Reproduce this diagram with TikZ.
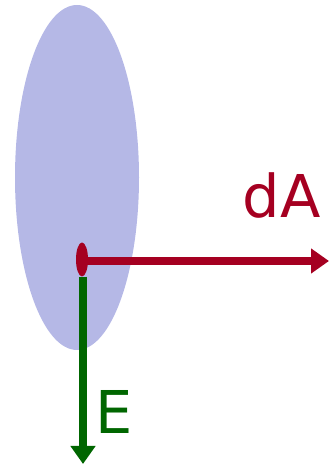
\documentclass[tikz,border=0pt]{standalone}
\usepackage{fontspec}
\setmainfont{DejaVu Sans}
\usetikzlibrary{arrows.meta,positioning,shapes.geometric}
\definecolor{lav}{RGB}{181,184,230}
\definecolor{wine}{RGB}{165,0,33}
\definecolor{leaf}{RGB}{0,102,0}

\begin{document}
\begin{tikzpicture}[x=1pt,y=1pt,
  blobshape/.style={ellipse,fill=lav,inner sep=0pt},
  vec/.style={-{Triangle[length=18pt,width=24pt]},line width=8pt},
  lbl/.style={inner sep=0pt,anchor=base,font=\fontsize{59}{59}\selectfont}
]
\useasboundingbox (0,0) rectangle (329,465);
\node[blobshape,minimum width=124pt,minimum height=345pt] (blob) at (77,287.5) {};
\node[ellipse,fill=wine,inner sep=0pt,minimum width=12pt,minimum height=34pt] (src) at (82,205.5) {};
\coordinate (tipA) at (329,204);
\coordinate (tipE) at (83,1);
\draw[vec,wine] (src.center |- tipA) -- (tipA);
\draw[vec,leaf] (src.south -| tipE) -- (tipE);
\node[lbl,text=wine] (dA) at (281.5,247) {dA};
\node[lbl,text=leaf] (E) at (114,31) {E};
\end{tikzpicture}
\end{document}
